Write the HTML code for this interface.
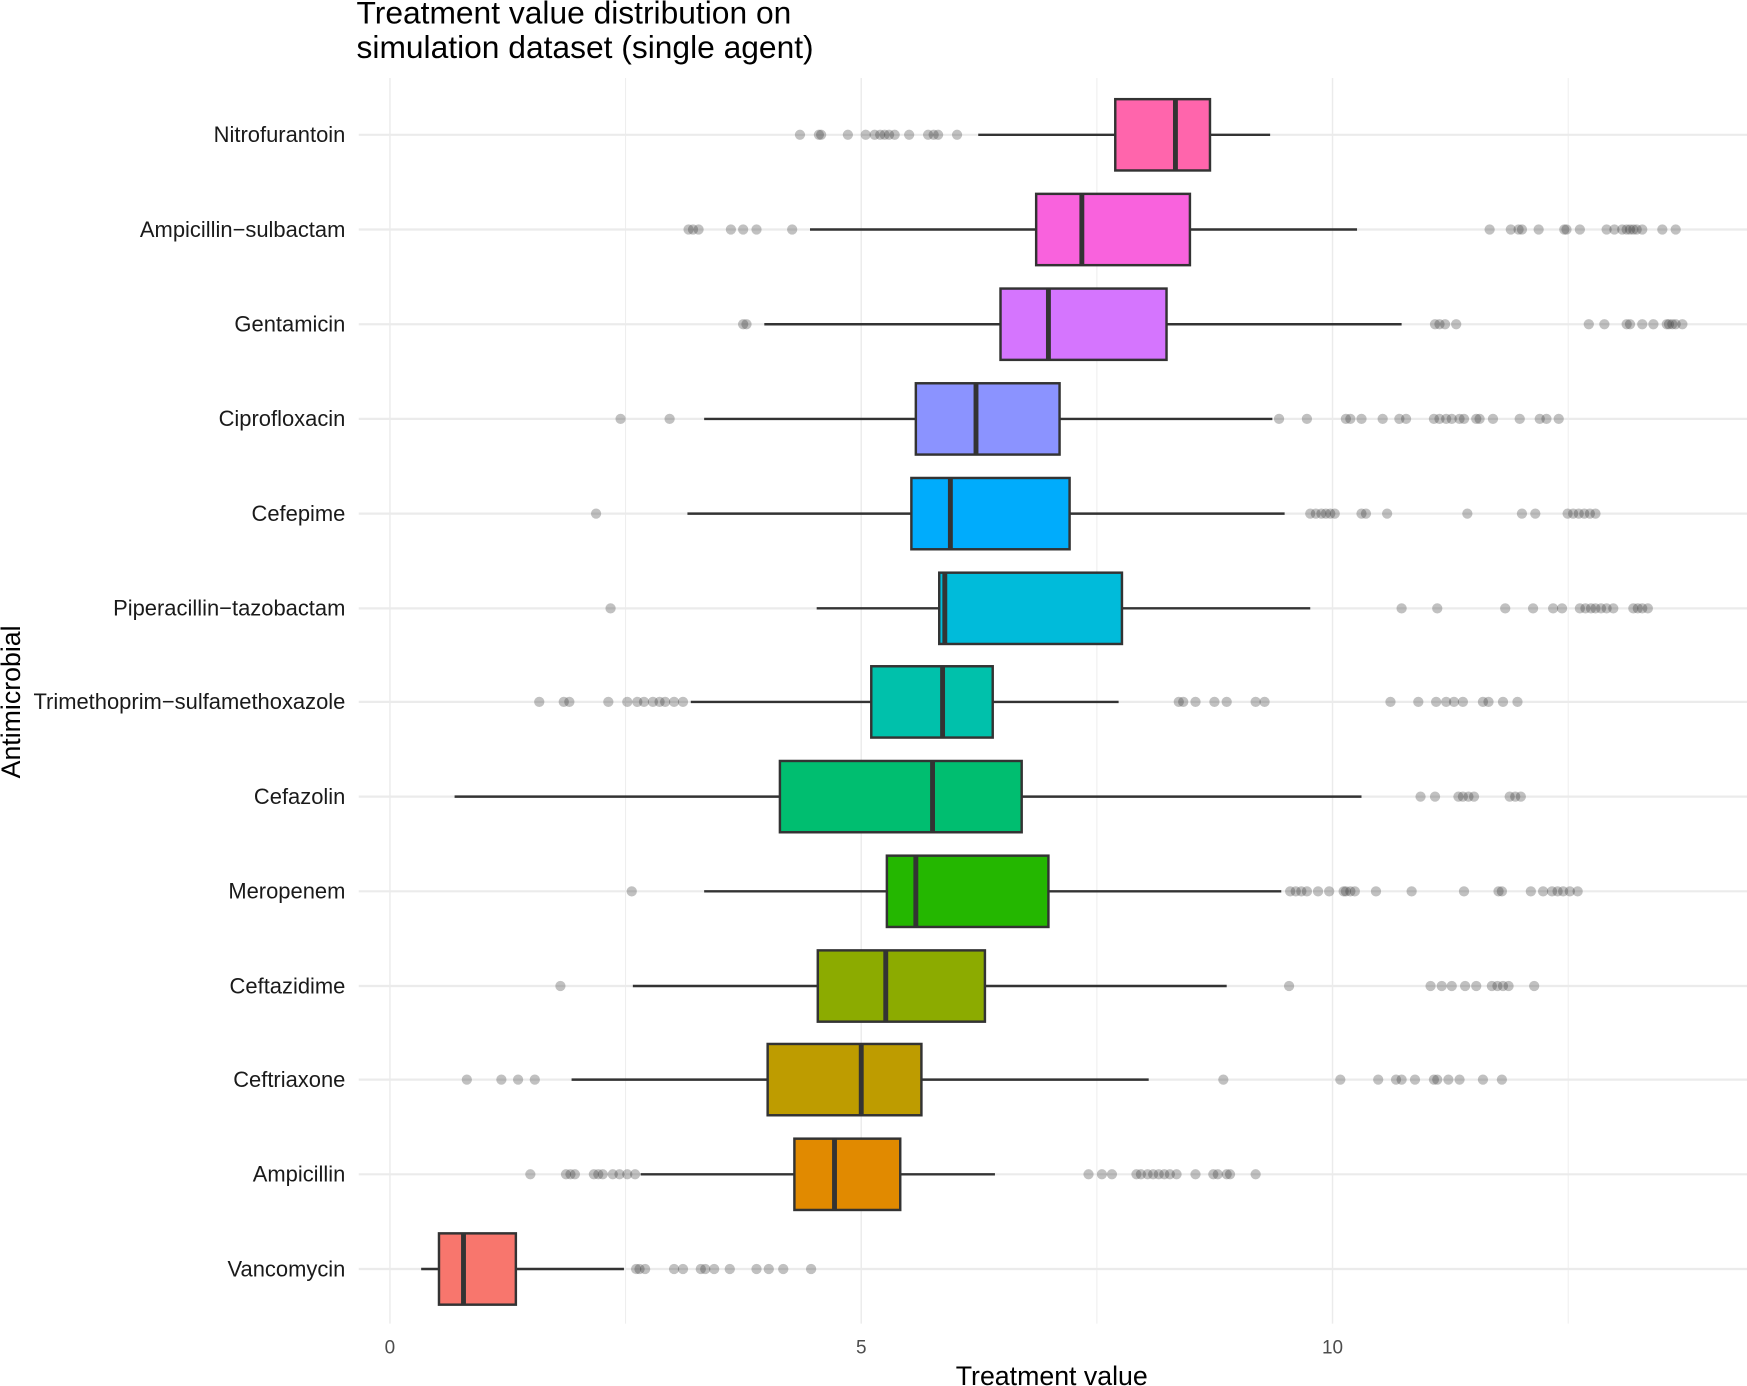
<!DOCTYPE html>
<html><head><meta charset="utf-8"><style>html,body{margin:0;padding:0;background:#fff}svg{display:block}</style></head>
<body>
<svg id="s" width="1747" height="1386" viewBox="0 0 1568 1244" xmlns="http://www.w3.org/2000/svg" font-family="Liberation Sans, Arial, sans-serif"></svg>
<script>
const S=document.getElementById('s');let h='';
[350,773,1196].forEach(x=>h+=`<line x1="${x}" y1="70" x2="${x}" y2="1188" stroke="#ebebeb" stroke-width="1.3"/>`);
[561.5,984.5,1407.5].forEach(x=>h+=`<line x1="${x}" y1="70" x2="${x}" y2="1188" stroke="#ebebeb" stroke-width="0.8"/>`);
const rows=[
["Nitrofurantoin","#FF65AC",121,878,1001,1055,1086,1140,[718,735,737,761,777,785,790,794,798,803,816,833,838,842,859]],
["Ampicillin\u2212sulbactam","#F962DD",206,727,930,971,1068,1218,[618,622,627,656,667,679,711,1337,1356,1363,1366,1381,1404,1406,1418,1442,1449,1456,1460,1463,1466,1469,1474,1492,1504]],
["Gentamicin","#D575FE",291,686,898,941,1047,1258,[667,670,1288,1292,1297,1307,1426,1440,1460,1463,1474,1484,1496,1498,1501,1504,1510]],
["Ciprofloxacin","#8B93FF",376,632,822,876,951,1142,[557,601,1148,1173,1208,1212,1222,1241,1256,1262,1287,1292,1298,1303,1310,1314,1325,1328,1340,1364,1382,1388,1399]],
["Cefepime","#00ACFC",461,617,818,853,960,1153,[535,1176,1181,1186,1190,1194,1198,1222,1226,1245,1317,1366,1378,1407,1412,1417,1422,1427,1432]],
["Piperacillin\u2212tazobactam","#00BBDA",546,733,843,848,1007,1176,[548,1258,1290,1351,1376,1394,1402,1418,1423,1428,1432,1437,1442,1448,1466,1470,1474,1479]],
["Trimethoprim\u2212sulfamethoxazole","#00C1AB",630,620,782,846,891,1004,[484,506,511,546,563,572,578,586,592,597,605,613,1058,1062,1073,1090,1101,1127,1135,1248,1273,1289,1298,1305,1313,1331,1336,1349,1362]],
["Cefazolin","#00BE70",715,408,700,837,917,1222,[1275,1288,1309,1313,1318,1323,1355,1360,1365]],
["Meropenem","#24B700",800,632,796,822,941,1150,[567,1158,1163,1168,1173,1183,1193,1206,1208,1212,1216,1235,1267,1314,1345,1348,1374,1385,1393,1398,1403,1409,1416]],
["Ceftazidime","#8CAB00",885,568,734,795,884,1101,[503,1157,1284,1294,1303,1315,1325,1339,1344,1349,1354,1377]],
["Ceftriaxone","#BE9C00",969,513,689,773,827,1031,[419,450,465,480,1098,1203,1237,1253,1258,1270,1287,1290,1300,1310,1331,1348]],
["Ampicillin","#E18A00",1054,575,713,749,808,893,[476,508,512,516,533,537,541,550,556,563,570,977,989,998,1020,1024,1030,1035,1040,1045,1050,1056,1073,1089,1093,1101,1104,1127]],
["Vancomycin","#F8766D",1139,378,394,416,463,560,[571,574,579,605,613,629,633,641,655,679,690,703,728]]];
rows.forEach(r=>h+=`<line x1="322" y1="${r[2]}" x2="1568" y2="${r[2]}" stroke="#ebebeb" stroke-width="2"/>`);
rows.forEach(([n,c,y,wl,q1,m,q3,wh,o])=>{
 h+=`<line x1="${wl}" y1="${y}" x2="${q1}" y2="${y}" stroke="#333" stroke-width="2.2"/><line x1="${q3}" y1="${y}" x2="${wh}" y2="${y}" stroke="#333" stroke-width="2.2"/>`;
 h+=`<rect x="${q1}" y="${y-32}" width="${q3-q1}" height="64" fill="${c}" stroke="#333" stroke-width="2.2"/>`;
 h+=`<line x1="${m}" y1="${y-32}" x2="${m}" y2="${y+32}" stroke="#333" stroke-width="4.4"/>`;
 o.forEach(x=>h+=`<circle cx="${x}" cy="${y}" r="4.6" fill="#333" fill-opacity="0.3"/>`);
 h+=`<text x="310" y="${y+6.5}" text-anchor="end" font-size="19.7" fill="#1a1a1a">${n}</text>`;
});
[[350,"0"],[773,"5"],[1196,"10"]].forEach(([x,t])=>h+=`<text x="${x}" y="1215" text-anchor="middle" font-size="17" fill="#4d4d4d">${t}</text>`);
h+=`<text x="944" y="1243" text-anchor="middle" font-size="24">Treatment value</text>`;
h+=`<text transform="translate(18,630) rotate(-90)" text-anchor="middle" font-size="24">Antimicrobial</text>`;
h+=`<text x="320" y="21" font-size="28.5">Treatment value distribution on</text><text x="320" y="52" font-size="28.5">simulation dataset (single agent)</text>`;
S.innerHTML=h;
</script>
</body></html>
